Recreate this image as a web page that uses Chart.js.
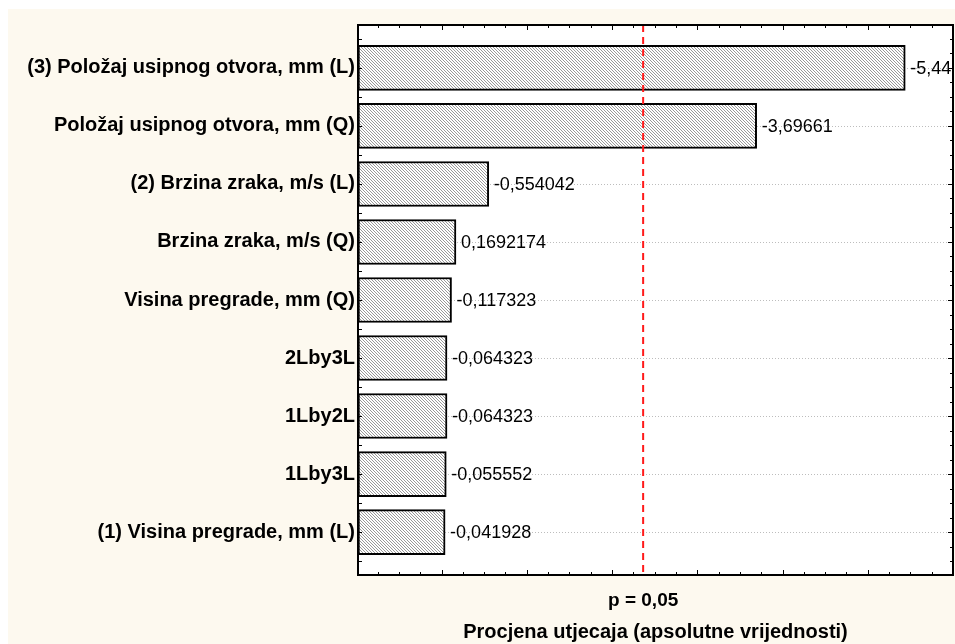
<!DOCTYPE html>
<html>
<head>
<meta charset="utf-8">
<script src="https://cdn.jsdelivr.net/npm/chart.js@4.4.1/dist/chart.umd.min.js"></script>
<style>
  html, body { margin: 0; padding: 0; background: #fff; }
  #wrap { position: absolute; left: 8px; top: 9px; width: 947px; height: 635px; background: #fdf9ef; }
</style>
</head>
<body>
<div id="wrap"><canvas id="pareto" width="947" height="635"></canvas></div>
<script>
// Pareto efekata - procjena utjecaja
const factors = [
    '(3) Položaj usipnog otvora, mm (L)',
    'Položaj usipnog otvora, mm (Q)',
    '(2) Brzina zraka, m/s (L)',
    'Brzina zraka, m/s (Q)',
    'Visina pregrade, mm (Q)',
    '2Lby3L',
    '1Lby2L',
    '1Lby3L',
    '(1) Visina pregrade, mm (L)'
];
const effects = [-5.44, -3.69661, -0.554042, 0.1692174, -0.117323, -0.064323, -0.064323, -0.055552, -0.041928];
const effectLabels = ['-5,44', '-3,69661', '-0,554042', '0,1692174', '-0,117323', '-0,064323', '-0,064323', '-0,055552', '-0,041928'];
const pCrit = 2.365;
const pLabel = 'p = 0,05';
const xTitle = 'Procjena utjecaja (apsolutne vrijednosti)';
const xMin = -0.98, xMax = 6;

Chart.defaults.font.family = "'Liberation Sans', Arial, sans-serif";
Chart.defaults.color = '#000';

const canvas = document.getElementById('pareto');
const ctx = canvas.getContext('2d');

// sivi kosi raster za stupce
function hatch() {
    const c = document.createElement('canvas');
    c.width = 3; c.height = 3;
    const g = c.getContext('2d');
    g.fillStyle = '#fff';
    g.fillRect(0, 0, 3, 3);
    g.fillStyle = '#999';
    for (let i = 0; i < 3; i++) g.fillRect(i, i, 1, 1);
    return ctx.createPattern(c, 'repeat');
}

const paretoExtras = {
    id: 'paretoExtras',
    beforeDraw(chart) {
        const { ctx, chartArea: a } = chart;
        ctx.save();
        ctx.fillStyle = '#fff';
        ctx.fillRect(a.left, a.top, a.right - a.left, a.bottom - a.top);
        ctx.restore();
    },
    beforeDatasetsDraw(chart) {
        const { ctx, chartArea: a, scales: { y } } = chart;
        ctx.save();
        ctx.strokeStyle = '#bdbdbd';
        ctx.lineWidth = 1;
        ctx.setLineDash([1, 2]);
        factors.forEach((_, i) => {
            const py = Math.round(y.getPixelForValue(i)) + 0.5;
            ctx.beginPath();
            ctx.moveTo(a.left, py);
            ctx.lineTo(a.right, py);
            ctx.stroke();
        });
        ctx.restore();
    },
    afterDatasetsDraw(chart) {
        const { ctx, chartArea: a, scales: { x, y } } = chart;

        // vrijednosti uz stupce
        ctx.save();
        ctx.beginPath();
        ctx.rect(a.left, a.top, a.right - a.left, a.bottom - a.top);
        ctx.clip();
        ctx.font = "18px 'Liberation Sans', Arial, sans-serif";
        ctx.fillStyle = '#000';
        ctx.textAlign = 'left';
        ctx.textBaseline = 'middle';
        effects.forEach((v, i) => {
            ctx.fillText(effectLabels[i], x.getPixelForValue(Math.abs(v)) + 5, y.getPixelForValue(i) + 1);
        });
        ctx.restore();

        // granica p = 0,05
        const px = x.getPixelForValue(pCrit);
        ctx.save();
        ctx.strokeStyle = '#ff1a1a';
        ctx.lineWidth = 2;
        ctx.setLineDash([7, 5]);
        ctx.beginPath();
        ctx.moveTo(px, a.top);
        ctx.lineTo(px, a.bottom);
        ctx.stroke();
        ctx.restore();

        // okvir i crtice
        ctx.save();
        ctx.strokeStyle = '#000';
        ctx.lineWidth = 1;
        ctx.beginPath();
        for (let t = -0.5; t <= factors.length - 0.5; t += 0.5) {
            const py = Math.round(y.getPixelForValue(t)) + 0.5;
            ctx.moveTo(a.left, py);
            ctx.lineTo(a.left + 4, py);
        }
        for (let t = -0.5; t <= factors.length - 0.5; t += 0.25) {
            const py = Math.round(y.getPixelForValue(t)) + 0.5;
            const len = Number.isInteger(t) ? 5 : 3;
            ctx.moveTo(a.right, py);
            ctx.lineTo(a.right - len, py);
        }
        for (let t = -0.75; t <= xMax; t += 0.25) {
            const pxT = Math.round(x.getPixelForValue(t)) + 0.5;
            const len = Number.isInteger(t) ? 5 : 3;
            ctx.moveTo(pxT, a.bottom);
            ctx.lineTo(pxT, a.bottom - len);
            ctx.moveTo(pxT, a.top);
            ctx.lineTo(pxT, a.top + len);
        }
        ctx.stroke();
        ctx.lineWidth = 2;
        ctx.strokeRect(a.left, a.top, a.right - a.left, a.bottom - a.top);
        ctx.restore();

        // oznaka p
        ctx.save();
        ctx.font = "bold 19px 'Liberation Sans', Arial, sans-serif";
        ctx.fillStyle = '#000';
        ctx.textAlign = 'center';
        ctx.textBaseline = 'alphabetic';
        ctx.fillText(pLabel, px, a.bottom + 31);
        ctx.restore();
    }
};

new Chart(ctx, {
    type: 'bar',
    data: {
        datasets: [{
            data: effects.map((v, i) => ({ x: Math.abs(v), y: i })),
            base: xMin,
            backgroundColor: hatch(),
            borderColor: '#000',
            borderWidth: 2,
            borderSkipped: false,
            barThickness: 45
        }]
    },
    options: {
        indexAxis: 'y',
        responsive: false,
        animation: false,
        layout: { padding: { top: 16, right: 2, bottom: 0, left: 0 } },
        plugins: {
            legend: { display: false },
            tooltip: { enabled: false }
        },
        scales: {
            x: {
                type: 'linear',
                min: xMin,
                max: xMax,
                ticks: { display: false },
                grid: { display: false, drawTicks: false },
                border: { display: false },
                title: {
                    display: true,
                    text: xTitle,
                    color: '#000',
                    font: { size: 20, weight: 'bold' },
                    padding: { top: 45, bottom: 0 }
                }
            },
            y: {
                type: 'linear',
                reverse: true,
                offset: false,
                min: -0.74,
                max: factors.length - 0.26,
                afterBuildTicks: s => { s.ticks = factors.map((_, i) => ({ value: i })); },
                afterFit: s => { s.width = 350; },
                ticks: {
                    autoSkip: false,
                    padding: 3,
                    color: '#000',
                    font: { size: 20, weight: 'bold' },
                    callback: v => factors[v]
                },
                grid: { display: false, drawTicks: false, offset: false },
                border: { display: false }
            }
        }
    },
    plugins: [paretoExtras]
});
</script>
</body>
</html>
